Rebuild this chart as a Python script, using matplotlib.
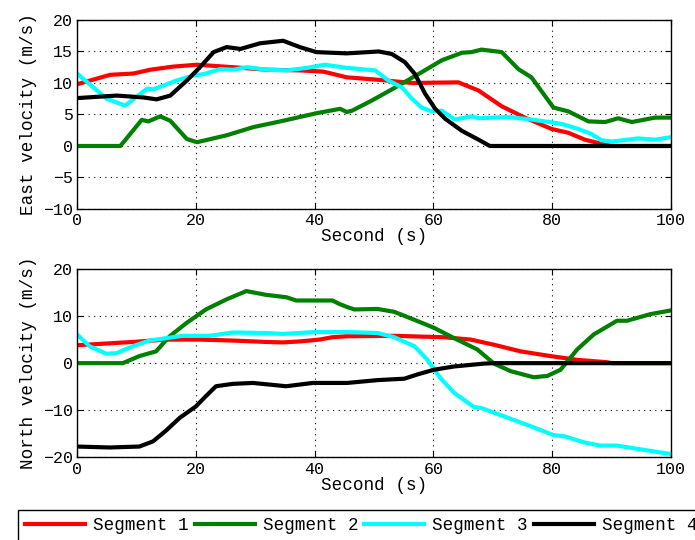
import numpy as np
import matplotlib
matplotlib.use("Agg")
import matplotlib.pyplot as plt

# East velocity (time s, value m/s)
east_t1 = [0, 5.6, 9.5, 12.3, 16.2, 20.2, 26.3, 32, 37.5, 41.5, 45.4, 50.8, 56.4, 64.2,
           67.6, 71.5, 75.4, 79.9, 82.7, 85.5, 88.9, 90, 100]
east_v1 = [9.8, 11.3, 11.5, 12.1, 12.6, 12.9, 12.5, 12.1, 12.0, 11.8, 10.9, 10.5, 10.0, 10.1,
           8.8, 6.3, 4.5, 2.7, 2.1, 1.0, 0.2, 0, 0]

east_t2 = [0, 7.3, 10.9, 12, 14, 15.7, 18.5, 20.2, 25.2, 29.7, 34.7, 40.3, 44.3, 45.4,
           46.3, 49.6, 53.6, 58, 61.4, 64.8, 66.4, 68.1, 71.5, 74.3, 76.5, 80.2, 82.7,
           86.1, 88.9, 91.1, 93.4, 97.3, 100]
east_v2 = [0, 0, 4.15, 3.9, 4.7, 4.0, 1.1, 0.6, 1.7, 3.0, 4.0, 5.2, 5.9, 5.4,
           5.6, 7.2, 9.3, 11.7, 13.6, 14.8, 14.9, 15.3, 14.9, 12.2, 10.9, 6.1, 5.5,
           3.9, 3.8, 4.4, 3.8, 4.5, 4.5]

east_t3 = [0, 5, 8.1, 11.8, 12.9, 16.8, 19.6, 21.3, 24.1, 26.3, 28.6, 32, 35.3, 38.7,
           41.7, 45.4, 50.2, 52.4, 54.7, 56.4, 58, 59.7, 61.4, 63.6, 66.4, 67.6, 72.6,
           76.5, 81.6, 84.4, 86.6, 88.3, 90, 94.5, 97.3, 100]
east_v3 = [11.5, 7.5, 6.4, 9.1, 9.0, 10.4, 11.2, 11.4, 12.2, 12.1, 12.5, 12.1, 12.0, 12.4,
           12.9, 12.4, 12.0, 10.4, 9.3, 7.5, 6.1, 5.5, 5.6, 4.2, 4.7, 4.4, 4.6,
           4.2, 3.5, 2.7, 1.9, 0.9, 0.7, 1.2, 1.0, 1.4]

east_t4 = [0, 6.7, 11.2, 13.4, 15.7, 18.5, 20.7, 23, 25.2, 27.5, 30.8, 34.7, 37.5, 40.3,
           45.4, 50.8, 53, 55.2, 56.9, 58.6, 60.3, 62, 64.8, 67.6, 69.5, 100]
east_v4 = [7.6, 8.0, 7.7, 7.4, 8.0, 10.4, 12.5, 14.9, 15.7, 15.4, 16.3, 16.7, 15.7, 14.9,
           14.7, 15.0, 14.6, 13.3, 11.4, 8.3, 5.9, 4.3, 2.4, 1.0, 0, 0]

# North velocity
north_t1 = [0, 9.4, 15, 20.6, 26.2, 31.8, 34.6, 37.4, 40.8, 43, 45.3, 53.4, 61.8, 66.3,
            70.2, 74.7, 79.7, 84.2, 89.2, 90, 100]
north_v1 = [3.8, 4.5, 5.0, 5.0, 4.8, 4.5, 4.4, 4.6, 5.0, 5.5, 5.7, 5.8, 5.5, 5.0,
            3.9, 2.5, 1.5, 0.7, 0.2, 0, 0]

north_t2 = [0, 7.7, 10.5, 13.3, 15.6, 18.4, 21.7, 25.1, 28.5, 31.8, 35.2, 36.9, 40.2, 43,
            44.1, 45.5, 46.7, 50.6, 53.4, 56.8, 60.1, 63.5, 67.4, 70.2, 73, 76.9, 79.2,
            81.4, 84.2, 87, 90.9, 92.6, 96.5, 100]
north_v2 = [0, 0, 1.5, 2.5, 5.7, 8.5, 11.4, 13.5, 15.3, 14.5, 14.0, 13.3, 13.3, 13.3,
            12.6, 11.9, 11.4, 11.5, 10.9, 9.2, 7.5, 5.3, 2.9, -0.1, -1.7, -3.0, -2.7,
            -1.4, 2.9, 6.1, 9.0, 9.0, 10.4, 11.2]

north_t3 = [0, 2.1, 4.9, 6.6, 9.4, 12.2, 15, 17.8, 22.3, 26.2, 31.8, 34.6, 40.2, 45.5,
            50.6, 53.4, 56.8, 59, 61.2, 63.5, 66.8, 68, 71.9, 76.4, 80.3, 82, 85.3, 88.1,
            90.9, 95.4, 100]
north_v3 = [6.1, 3.6, 2.0, 2.1, 3.6, 4.8, 5.3, 5.8, 5.8, 6.5, 6.4, 6.2, 6.6, 6.6,
            6.4, 5.5, 3.6, 0.7, -3.2, -6.3, -9.3, -9.5, -11.3, -13.4, -15.3, -15.5, -16.8, -17.5,
            -17.5, -18.4, -19.3]

north_t4 = [0, 5.5, 10.5, 12.8, 15, 17.3, 20, 21.7, 23.4, 26.2, 29.6, 35.2, 39.7, 45.5,
            50.6, 55.1, 57.3, 60.1, 63.5, 68.5, 70.2, 100]
north_v4 = [-17.7, -17.9, -17.7, -16.6, -14.3, -11.6, -9.2, -7.0, -4.9, -4.4, -4.2, -4.9, -4.2, -4.2,
            -3.6, -3.3, -2.4, -1.4, -0.7, -0.1, 0, 0]

labels = ["Segment 1", "Segment 2", "Segment 3", "Segment 4"]
colors = ["#ff0000", "#008000", "#00ffff", "#000000"]

plt.rcParams["font.family"] = ["Liberation Mono", "DejaVu Sans Mono"]

fig = plt.figure(figsize=(6.95, 5.4), dpi=100)
ax1 = fig.add_axes([0.1108, 0.613, 0.8547, 0.350])
ax2 = fig.add_axes([0.1108, 0.153, 0.8547, 0.349])

east = [(east_t1, east_v1), (east_t2, east_v2), (east_t3, east_v3), (east_t4, east_v4)]
north = [(north_t1, north_v1), (north_t2, north_v2), (north_t3, north_v3), (north_t4, north_v4)]

lines = []
for (t, v), c, lab in zip(east, colors, labels):
    ln, = ax1.plot(t, v, color=c, lw=3, label=lab)
    lines.append(ln)
for (t, v), c in zip(north, colors):
    ax2.plot(t, v, color=c, lw=3)

ax1.set_ylim(-10, 20)
ax1.set_yticks(np.arange(-10, 21, 5))
ax1.set_ylabel("East velocity (m/s)", fontsize=12.7)
ax2.set_ylim(-20, 20)
ax2.set_yticks(np.arange(-20, 21, 10))
ax2.set_ylabel("North velocity (m/s)", fontsize=12.7)

for ax in (ax1, ax2):
    ax.set_xlim(0, 100)
    ax.set_xticks(np.arange(0, 101, 20))
    ax.set_xlabel("Second (s)", fontsize=12.7, labelpad=0)
    ax.grid(True, color="black", linestyle=(0, (1, 4)), linewidth=0.8)
    ax.tick_params(direction="in", top=True, right=True, labelsize=12, length=4, pad=3)
    for s in ax.spines.values():
        s.set_linewidth(1.0)

fig.legend(lines, labels, loc="upper left", bbox_to_anchor=(18 / 695, 1 - 510 / 540),
           ncol=4, fontsize=12.7, frameon=True, fancybox=False, edgecolor="black",
           framealpha=1, handlelength=3.4, handletextpad=0.45, columnspacing=0.35,
           borderaxespad=0, borderpad=0.4)

fig.savefig("out.png", dpi=100)
